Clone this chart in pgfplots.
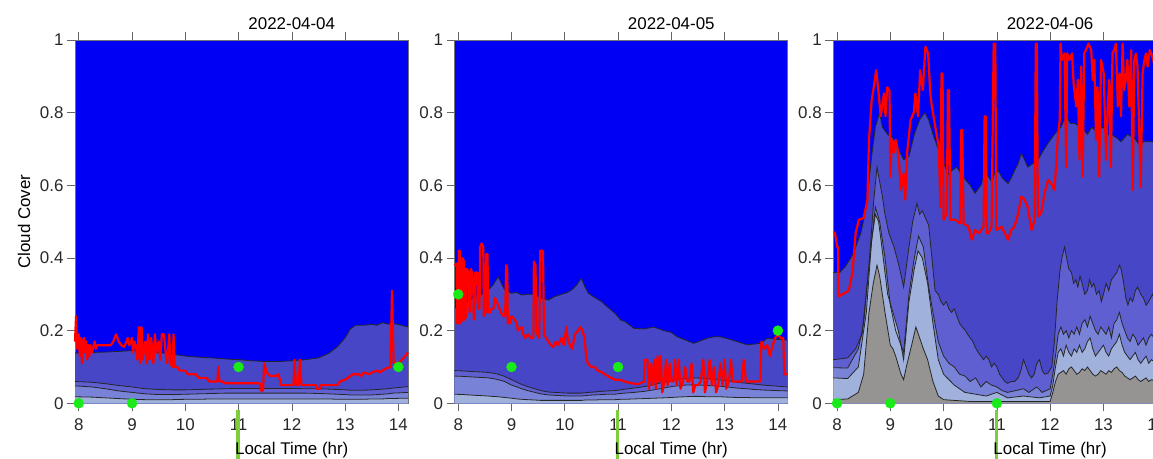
\documentclass[border=0pt]{standalone}
\usepackage{pgfplots}
\pgfplotsset{compat=1.18}
\usepackage{pgfplotstable}
\usepackage{fontspec}
\setmainfont{Liberation Sans}

\definecolor{bgblue}{RGB}{0,0,245}
\definecolor{cA}{RGB}{70,70,198}
\definecolor{cB}{RGB}{95,95,210}
\definecolor{cC}{RGB}{120,130,215}
\definecolor{cD}{RGB}{160,178,220}
\definecolor{cE}{RGB}{150,148,146}
\definecolor{dotgreen}{RGB}{25,235,25}
\definecolor{vgreen}{RGB}{125,205,60}
\definecolor{ticktext}{RGB}{40,40,40}

% ---------- Panel 1 (2022-04-04) ----------
\pgfplotstableread{
x     b1    b2    b3    b4
7.93  0.138 0.060 0.048 0.018
8.25  0.140 0.058 0.045 0.017
8.5   0.141 0.054 0.040 0.015
8.75  0.143 0.049 0.034 0.013
9.0   0.145 0.045 0.030 0.011
9.25  0.143 0.040 0.026 0.010
9.5   0.140 0.038 0.024 0.010
9.75  0.135 0.037 0.024 0.010
10.0  0.130 0.037 0.025 0.011
10.25 0.127 0.038 0.026 0.011
10.5  0.125 0.039 0.027 0.012
10.75 0.122 0.040 0.028 0.012
11.0  0.120 0.041 0.028 0.012
11.25 0.117 0.041 0.028 0.012
11.5  0.115 0.041 0.028 0.012
11.75 0.115 0.041 0.028 0.012
12.0  0.117 0.041 0.028 0.012
12.25 0.120 0.040 0.028 0.012
12.5  0.125 0.040 0.027 0.012
12.7  0.138 0.039 0.026 0.012
12.85 0.155 0.038 0.025 0.011
13.0  0.180 0.037 0.024 0.011
13.1  0.205 0.036 0.023 0.011
13.2  0.215 0.036 0.023 0.011
13.35 0.215 0.036 0.023 0.011
13.5  0.217 0.037 0.023 0.012
13.6  0.215 0.038 0.024 0.012
13.7  0.222 0.039 0.025 0.012
13.8  0.218 0.040 0.026 0.013
13.9  0.220 0.042 0.028 0.013
14.05 0.215 0.044 0.029 0.014
14.18 0.210 0.046 0.030 0.014
}\bandsA

\pgfplotstableread{
x y
7.93 0.17
7.95 0.24
7.97 0.15
8.00 0.19
8.02 0.13
8.04 0.18
8.06 0.11
8.08 0.17
8.10 0.18
8.12 0.14
8.14 0.17
8.16 0.12
8.18 0.16
8.20 0.13
8.22 0.16
8.25 0.14
8.28 0.16
8.30 0.17
8.32 0.15
8.35 0.16
8.50 0.16
8.60 0.16
8.65 0.17
8.70 0.19
8.75 0.17
8.80 0.16
8.85 0.155
8.90 0.17
8.92 0.18
8.95 0.16
9.00 0.18
9.02 0.14
9.05 0.17
9.08 0.15
9.10 0.12
9.13 0.21
9.15 0.11
9.18 0.21
9.20 0.12
9.25 0.17
9.28 0.11
9.30 0.19
9.33 0.12
9.36 0.18
9.40 0.11
9.43 0.19
9.46 0.14
9.50 0.17
9.53 0.12
9.56 0.19
9.60 0.19
9.63 0.14
9.66 0.11
9.70 0.19
9.72 0.11
9.76 0.10
9.78 0.19
9.80 0.10
9.85 0.10
9.90 0.09
10.00 0.09
10.05 0.08
10.20 0.08
10.25 0.07
10.40 0.07
10.45 0.06
10.60 0.06
10.62 0.10
10.64 0.06
10.70 0.06
10.75 0.055
11.40 0.055
11.42 0.035
11.46 0.035
11.48 0.11
11.52 0.09
11.55 0.08
11.60 0.075
11.70 0.075
11.75 0.08
11.80 0.05
12.03 0.05
12.05 0.12
12.08 0.05
12.13 0.05
12.15 0.12
12.18 0.05
12.45 0.05
12.47 0.04
12.52 0.04
12.54 0.05
12.85 0.05
12.90 0.06
13.00 0.065
13.05 0.07
13.15 0.08
13.25 0.08
13.30 0.075
13.35 0.085
13.45 0.08
13.50 0.085
13.60 0.09
13.65 0.085
13.75 0.095
13.85 0.10
13.88 0.31
13.91 0.11
14.00 0.11
14.10 0.125
14.18 0.14
}\redA

% ---------- Panel 2 (2022-04-05) ----------
\pgfplotstableread{
x     b1    b2    b3    b4
7.93  0.262 0.090 0.075 0.025
8.1   0.275 0.089 0.074 0.024
8.31  0.293 0.087 0.072 0.022
8.45  0.300 0.086 0.071 0.021
8.56  0.312 0.085 0.070 0.020
8.65  0.325 0.083 0.068 0.019
8.75  0.348 0.080 0.065 0.018
8.87  0.312 0.074 0.060 0.016
9.0   0.303 0.065 0.050 0.014
9.1   0.305 0.058 0.045 0.012
9.19  0.298 0.052 0.040 0.011
9.3   0.300 0.046 0.035 0.010
9.44  0.300 0.040 0.030 0.009
9.55  0.290 0.035 0.026 0.008
9.69  0.284 0.031 0.023 0.008
9.8   0.293 0.030 0.022 0.008
9.94  0.300 0.029 0.021 0.008
10.05 0.305 0.028 0.020 0.008
10.13 0.312 0.028 0.020 0.008
10.22 0.325 0.028 0.020 0.008
10.31 0.344 0.028 0.020 0.008
10.38 0.320 0.029 0.021 0.009
10.44 0.303 0.030 0.022 0.009
10.55 0.292 0.031 0.023 0.009
10.69 0.280 0.033 0.024 0.010
10.8  0.265 0.034 0.025 0.010
10.94 0.248 0.035 0.025 0.010
11.05 0.229 0.037 0.027 0.011
11.13 0.225 0.039 0.028 0.011
11.3  0.206 0.042 0.030 0.012
11.5  0.205 0.046 0.033 0.013
11.67 0.210 0.052 0.037 0.014
11.86 0.200 0.058 0.042 0.015
12.0  0.195 0.062 0.046 0.016
12.11 0.183 0.065 0.048 0.017
12.25 0.175 0.068 0.050 0.018
12.42 0.165 0.070 0.051 0.019
12.55 0.172 0.069 0.050 0.019
12.67 0.179 0.068 0.049 0.018
12.8  0.183 0.066 0.048 0.018
12.92 0.183 0.064 0.047 0.018
13.05 0.178 0.062 0.045 0.017
13.23 0.170 0.058 0.042 0.016
13.42 0.161 0.055 0.040 0.016
13.55 0.163 0.053 0.038 0.015
13.67 0.165 0.051 0.037 0.015
13.8  0.179 0.049 0.036 0.015
14.0  0.176 0.047 0.035 0.015
14.18 0.174 0.045 0.034 0.015
}\bandsB

\pgfplotstableread{
x y
7.93 0.38
7.97 0.385
7.98 0.22
8.00 0.22
8.01 0.42
8.03 0.42
8.04 0.22
8.07 0.23
8.08 0.40
8.11 0.39
8.12 0.23
8.15 0.24
8.16 0.37
8.20 0.36
8.21 0.25
8.23 0.26
8.24 0.37
8.28 0.34
8.29 0.23
8.31 0.24
8.32 0.36
8.36 0.36
8.37 0.26
8.40 0.26
8.41 0.43
8.44 0.44
8.47 0.43
8.48 0.24
8.51 0.25
8.52 0.41
8.55 0.41
8.56 0.25
8.60 0.25
8.62 0.26
8.66 0.26
8.69 0.29
8.72 0.28
8.75 0.27
8.80 0.25
8.85 0.24
8.88 0.24
8.90 0.38
8.92 0.37
8.93 0.22
8.97 0.22
9.00 0.24
9.06 0.23
9.10 0.22
9.12 0.20
9.19 0.21
9.22 0.19
9.25 0.18
9.31 0.19
9.36 0.18
9.41 0.18
9.42 0.39
9.45 0.38
9.47 0.19
9.50 0.19
9.52 0.18
9.54 0.42
9.59 0.42
9.61 0.19
9.69 0.17
9.74 0.16
9.78 0.155
9.83 0.17
9.87 0.16
9.94 0.18
9.98 0.16
10.03 0.21
10.06 0.17
10.10 0.16
10.14 0.15
10.19 0.19
10.25 0.20
10.29 0.21
10.33 0.20
10.37 0.18
10.40 0.13
10.43 0.11
10.50 0.10
10.56 0.10
10.62 0.09
10.70 0.085
10.75 0.08
10.81 0.075
10.87 0.07
10.94 0.065
11.00 0.065
11.05 0.064
11.12 0.06
11.20 0.057
11.30 0.054
11.40 0.054
11.49 0.06
11.50 0.12
11.55 0.12
11.58 0.04
11.62 0.11
11.65 0.05
11.68 0.12
11.71 0.04
11.74 0.13
11.77 0.06
11.80 0.13
11.83 0.03
11.87 0.06
11.90 0.12
11.93 0.05
11.97 0.11
12.00 0.06
12.04 0.06
12.07 0.12
12.10 0.05
12.14 0.12
12.17 0.04
12.22 0.06
12.26 0.10
12.30 0.06
12.34 0.06
12.38 0.11
12.41 0.03
12.45 0.05
12.50 0.05
12.55 0.06
12.60 0.12
12.63 0.03
12.67 0.06
12.72 0.12
12.76 0.05
12.80 0.10
12.84 0.03
12.88 0.05
12.92 0.11
12.96 0.05
13.00 0.12
13.03 0.04
13.08 0.06
13.12 0.12
13.15 0.06
13.20 0.06
13.25 0.06
13.32 0.06
13.36 0.12
13.40 0.06
13.50 0.06
13.60 0.06
13.67 0.06
13.69 0.17
13.75 0.15
13.80 0.16
13.85 0.13
13.90 0.16
13.95 0.18
14.00 0.19
14.05 0.18
14.10 0.18
14.12 0.08
14.18 0.08
}\redB

% ---------- Panel 3 (2022-04-06) ----------
\pgfplotstableread{
x y
7.93 0.36
8.05 0.36
8.15 0.375
8.3 0.41
8.45 0.47
8.55 0.54
8.65 0.68
8.72 0.76
8.8 0.80
8.85 0.76
8.95 0.74
9.05 0.73
9.15 0.70
9.25 0.67
9.35 0.68
9.45 0.74
9.55 0.78
9.65 0.80
9.72 0.78
9.8 0.74
9.9 0.70
9.97 0.67
10.03 0.65
10.09 0.63
10.15 0.64
10.25 0.65
10.33 0.63
10.41 0.615
10.5 0.60
10.59 0.578
10.65 0.59
10.7 0.60
10.77 0.63
10.84 0.624
10.9 0.61
10.96 0.633
11.03 0.64
11.1 0.62
11.21 0.605
11.27 0.62
11.33 0.64
11.4 0.66
11.46 0.688
11.52 0.67
11.58 0.65
11.68 0.66
11.77 0.67
11.85 0.69
11.96 0.716
12.08 0.74
12.2 0.76
12.3 0.79
12.38 0.77
12.46 0.77
12.58 0.76
12.7 0.74
12.78 0.76
12.85 0.75
13.0 0.76
13.08 0.74
13.15 0.74
13.25 0.73
13.33 0.72
13.45 0.74
13.58 0.73
13.68 0.71
13.75 0.72
13.92 0.72
14.05 0.70
14.18 0.70
}\cOne

\pgfplotstableread{
x y
7.93 0.12
8.2 0.125
8.35 0.15
8.47 0.19
8.6 0.38
8.69 0.56
8.75 0.65
8.8 0.61
8.85 0.57
8.9 0.52
8.97 0.47
9.07 0.43
9.16 0.38
9.25 0.32
9.35 0.43
9.42 0.50
9.5 0.55
9.55 0.52
9.6 0.53
9.66 0.51
9.72 0.49
9.78 0.40
9.84 0.31
9.9 0.30
9.95 0.28
10.0 0.27
10.05 0.28
10.1 0.26
10.15 0.25
10.2 0.26
10.25 0.24
10.3 0.22
10.35 0.21
10.41 0.20
10.45 0.19
10.5 0.18
10.55 0.17
10.59 0.155
10.65 0.14
10.7 0.13
10.75 0.12
10.8 0.13
10.85 0.12
10.9 0.10
10.95 0.11
11.0 0.10
11.05 0.08
11.1 0.07
11.15 0.06
11.2 0.055
11.27 0.06
11.33 0.06
11.4 0.07
11.45 0.09
11.5 0.12
11.55 0.10
11.6 0.08
11.65 0.07
11.7 0.08
11.75 0.11
11.8 0.12
11.85 0.09
11.9 0.08
11.96 0.083
12.03 0.10
12.08 0.17
12.13 0.28
12.18 0.36
12.22 0.40
12.27 0.43
12.31 0.40
12.35 0.37
12.4 0.36
12.44 0.33
12.48 0.34
12.52 0.32
12.56 0.35
12.6 0.33
12.65 0.30
12.7 0.31
12.74 0.34
12.78 0.32
12.82 0.33
12.87 0.30
12.92 0.31
12.96 0.28
13.0 0.30
13.05 0.33
13.1 0.31
13.15 0.34
13.2 0.35
13.25 0.36
13.3 0.38
13.33 0.37
13.37 0.34
13.42 0.29
13.46 0.27
13.5 0.29
13.55 0.28
13.6 0.31
13.64 0.32
13.7 0.30
13.75 0.29
13.8 0.27
13.85 0.28
13.92 0.30
14.0 0.27
14.1 0.29
14.18 0.28
}\cTwo

\pgfplotstableread{
x y
7.93 0.098
8.2 0.097
8.4 0.15
8.5 0.22
8.6 0.38
8.72 0.54
8.8 0.50
8.9 0.40
9.0 0.27
9.1 0.20
9.2 0.16
9.25 0.14
9.35 0.30
9.45 0.40
9.53 0.46
9.62 0.43
9.72 0.32
9.8 0.25
9.9 0.17
10.0 0.13
10.1 0.11
10.2 0.10
10.3 0.08
10.4 0.075
10.5 0.06
10.6 0.07
10.7 0.045
10.8 0.06
10.9 0.05
11.0 0.045
11.1 0.035
11.2 0.03
11.35 0.035
11.5 0.04
11.6 0.03
11.75 0.045
11.85 0.03
12.0 0.04
12.05 0.08
12.1 0.13
12.15 0.19
12.2 0.21
12.25 0.19
12.3 0.20
12.35 0.18
12.4 0.20
12.45 0.19
12.5 0.21
12.55 0.19
12.6 0.22
12.65 0.23
12.7 0.21
12.75 0.24
12.8 0.22
12.85 0.20
12.9 0.19
12.95 0.21
13.0 0.20
13.05 0.19
13.1 0.21
13.15 0.18
13.2 0.22
13.25 0.23
13.3 0.25
13.35 0.22
13.4 0.20
13.45 0.18
13.5 0.17
13.55 0.19
13.6 0.18
13.65 0.16
13.7 0.17
13.75 0.18
13.8 0.16
13.85 0.18
13.9 0.19
14.0 0.17
14.1 0.18
14.18 0.17
}\cThree

\pgfplotstableread{
x y
7.93 0.07
8.2 0.068
8.4 0.10
8.55 0.25
8.65 0.45
8.72 0.52
8.78 0.50
8.85 0.42
8.95 0.30
9.05 0.25
9.15 0.20
9.25 0.12
9.35 0.28
9.45 0.37
9.52 0.42
9.6 0.40
9.7 0.33
9.8 0.22
9.9 0.12
10.0 0.08
10.2 0.05
10.4 0.03
10.6 0.025
10.8 0.02
11.0 0.03
11.2 0.015
11.5 0.02
11.8 0.015
12.0 0.02
12.05 0.05
12.1 0.10
12.15 0.14
12.2 0.15
12.25 0.13
12.3 0.16
12.35 0.14
12.4 0.13
12.45 0.15
12.5 0.14
12.55 0.16
12.6 0.14
12.65 0.15
12.7 0.17
12.75 0.18
12.8 0.15
12.85 0.13
12.9 0.14
12.95 0.15
13.0 0.16
13.05 0.14
13.1 0.13
13.15 0.15
13.2 0.16
13.25 0.17
13.3 0.19
13.35 0.16
13.4 0.14
13.45 0.13
13.5 0.12
13.55 0.13
13.6 0.14
13.65 0.12
13.7 0.11
13.75 0.12
13.8 0.13
13.85 0.11
13.9 0.12
14.0 0.11
14.1 0.12
14.18 0.11
}\cFour

\pgfplotstableread{
x y
7.93 0.01
8.2 0.012
8.4 0.03
8.5 0.08
8.6 0.25
8.68 0.33
8.75 0.38
8.8 0.35
8.85 0.30
8.9 0.25
9.0 0.16
9.05 0.15
9.1 0.13
9.2 0.08
9.25 0.065
9.3 0.10
9.4 0.16
9.48 0.21
9.55 0.18
9.62 0.15
9.7 0.12
9.8 0.06
9.9 0.02
10.0 0.01
10.5 0.005
11.0 0.005
11.5 0.005
12.0 0.005
12.05 0.03
12.1 0.06
12.15 0.08
12.2 0.085
12.25 0.09
12.3 0.08
12.35 0.095
12.4 0.10
12.45 0.09
12.5 0.08
12.55 0.085
12.6 0.095
12.65 0.09
12.7 0.10
12.75 0.09
12.8 0.08
12.85 0.075
12.9 0.08
12.95 0.09
13.0 0.085
13.05 0.08
13.1 0.09
13.15 0.085
13.2 0.095
13.25 0.10
13.3 0.09
13.35 0.085
13.4 0.075
13.45 0.07
13.5 0.065
13.55 0.07
13.6 0.075
13.65 0.065
13.7 0.06
13.75 0.065
13.8 0.07
13.85 0.06
13.9 0.065
14.0 0.06
14.18 0.06
}\cFive

\pgfplotstableread{
x y
7.93 0.47
7.96 0.47
8.005 0.43
8.02 0.43
8.025 0.294
8.10 0.30
8.22 0.31
8.29 0.36
8.35 0.47
8.41 0.505
8.50 0.51
8.57 0.56
8.60 0.725
8.65 0.835
8.69 0.87
8.735 0.917
8.77 0.87
8.82 0.79
8.85 0.82
8.88 0.853
8.91 0.79
8.94 0.87
8.985 0.86
9.00 0.624
9.03 0.725
9.065 0.69
9.10 0.725
9.13 0.706
9.16 0.67
9.20 0.587
9.25 0.633
9.28 0.56
9.315 0.69
9.38 0.78
9.44 0.80
9.47 0.853
9.52 0.79
9.56 0.917
9.61 0.862
9.66 0.982
9.71 0.963
9.75 0.853
9.78 0.817
9.845 0.76
9.91 0.706
9.94 0.54
9.96 0.908
9.98 0.908
10.00 0.505
10.06 0.523
10.08 0.862
10.10 0.862
10.13 0.505
10.22 0.505
10.31 0.495
10.33 0.752
10.35 0.752
10.375 0.495
10.47 0.486
10.53 0.45
10.59 0.477
10.66 0.468
10.75 0.486
10.77 0.79
10.79 0.79
10.81 0.468
10.84 0.468
10.90 0.486
10.94 0.99
10.97 0.99
10.99 0.477
11.085 0.486
11.15 0.468
11.21 0.45
11.27 0.477
11.33 0.486
11.40 0.523
11.46 0.569
11.52 0.56
11.58 0.54
11.65 0.477
11.71 0.505
11.73 0.99
11.75 0.99
11.77 0.514
11.83 0.523
11.895 0.578
11.96 0.615
12.02 0.605
12.08 0.587
12.11 0.65
12.145 0.734
12.18 0.78
12.195 0.99
12.22 0.945
12.27 0.963
12.30 0.65
12.32 0.963
12.36 0.945
12.41 0.963
12.44 0.88
12.49 0.817
12.52 0.89
12.55 0.67
12.58 0.927
12.61 0.624
12.64 0.963
12.67 0.972
12.72 0.99
12.77 0.972
12.80 0.89
12.83 0.945
12.86 0.725
12.89 0.87
12.92 0.624
12.955 0.945
13.005 0.908
13.05 0.67
13.08 0.817
13.11 0.89
13.14 0.65
13.17 0.963
13.20 0.972
13.235 0.99
13.27 0.817
13.30 0.908
13.33 0.79
13.36 0.99
13.39 0.862
13.42 0.89
13.45 0.945
13.485 0.817
13.52 0.972
13.55 0.587
13.58 0.945
13.61 0.963
13.64 0.927
13.70 0.596
13.735 0.908
13.77 0.945
13.80 0.963
13.83 0.927
13.87 0.972
13.92 0.954
13.96 0.93
14.00 0.97
14.05 0.90
14.10 0.96
14.18 0.95
}\redC

\pgfplotsset{
  panel/.style={
    anchor=south west, scale only axis,
    width=333bp, height=363.3bp,
    xmin=7.93, xmax=14.18, ymin=0, ymax=1,
    xtick={8,9,10,11,12,13,14},
    ytick={0,0.2,0.4,0.6,0.8,1},
    yticklabels={0,0.2,0.4,0.6,0.8,1},
    tick align=outside, ytick pos=left,
    major tick length=8bp,
    tick style={draw=black!60, line width=0.6bp},
    axis line style={draw=black!55, line width=0.6bp},
    axis background/.style={fill=bgblue},
    clip=false,
    font=\fontsize{17}{20}\selectfont,
    tick label style={text=ticktext},
    /pgf/number format/assume math mode=true,
    xticklabel style={yshift=-4bp},
    every axis title/.style={at={(axis description cs:0.651,1.0295)}, anchor=base},
    every axis x label/.style={at={(axis description cs:0.651,-0.1396)}, anchor=base},
    every axis y label/.style={at={(axis description cs:-0.1351,0.5)}, rotate=90, anchor=base},
    xlabel={Local Time (hr)},
  },
  cline/.style={draw=black!85, line width=0.8bp, no markers},
  redline/.style={draw=red, line width=2.2bp, no markers, line join=round},
  dots/.style={only marks, mark=*, mark size=5bp, color=dotgreen},
  vline/.style={draw=vgreen, line width=3.5bp, no markers},
}

\begin{document}
\begin{tikzpicture}
\useasboundingbox (0,0) rectangle (1153bp,459bp);
\clip (0,0) rectangle (1153bp,459bp);

% Panel 1
\begin{axis}[panel, at={(75bp,55.7bp)}, title={2022-04-04}, ylabel={Cloud Cover}]
  \addplot[fill=cA, draw=none] table[x=x,y=b1] {\bandsA} \closedcycle;
  \addplot[fill=cB, draw=none] table[x=x,y=b2] {\bandsA} \closedcycle;
  \addplot[fill=cC, draw=none] table[x=x,y=b3] {\bandsA} \closedcycle;
  \addplot[fill=cD, draw=none] table[x=x,y=b4] {\bandsA} \closedcycle;
  \addplot[cline] table[x=x,y=b1] {\bandsA};
  \addplot[cline] table[x=x,y=b2] {\bandsA};
  \addplot[cline] table[x=x,y=b3] {\bandsA};
  \addplot[cline] table[x=x,y=b4] {\bandsA};
  \addplot[redline] table {\redA};
  \addplot[dots] coordinates {(8,0) (9,0) (11,0.1) (14,0.1)};
  \addplot[vline] coordinates {(10.99,-0.018) (10.99,-0.17)};
\end{axis}

% Panel 2
\begin{axis}[panel, at={(454.5bp,55.7bp)}, title={2022-04-05}]
  \addplot[fill=cA, draw=none] table[x=x,y=b1] {\bandsB} \closedcycle;
  \addplot[fill=cB, draw=none] table[x=x,y=b2] {\bandsB} \closedcycle;
  \addplot[fill=cC, draw=none] table[x=x,y=b3] {\bandsB} \closedcycle;
  \addplot[fill=cD, draw=none] table[x=x,y=b4] {\bandsB} \closedcycle;
  \addplot[cline] table[x=x,y=b1] {\bandsB};
  \addplot[cline] table[x=x,y=b2] {\bandsB};
  \addplot[cline] table[x=x,y=b3] {\bandsB};
  \addplot[cline] table[x=x,y=b4] {\bandsB};
  \addplot[redline] table {\redB};
  \addplot[dots] coordinates {(8,0.3) (9,0.1) (11,0.1) (14,0.2)};
  \addplot[vline] coordinates {(10.99,-0.018) (10.99,-0.17)};
\end{axis}

% Panel 3
\begin{axis}[panel, at={(833.3bp,55.7bp)}, title={2022-04-06}]
  \addplot[fill=cA, draw=none] table {\cOne} \closedcycle;
  \addplot[fill=cB, draw=none] table {\cTwo} \closedcycle;
  \addplot[fill=cC, draw=none] table {\cThree} \closedcycle;
  \addplot[fill=cD, draw=none] table {\cFour} \closedcycle;
  \addplot[fill=cE, draw=none] table {\cFive} \closedcycle;
  \addplot[cline] table {\cOne};
  \addplot[cline] table {\cTwo};
  \addplot[cline] table {\cThree};
  \addplot[cline] table {\cFour};
  \addplot[cline] table {\cFive};
  \addplot[redline] table {\redC};
  \addplot[dots] coordinates {(8,0) (9,0) (11,0)};
  \addplot[vline] coordinates {(10.99,-0.018) (10.99,-0.17)};
\end{axis}
\end{tikzpicture}
\end{document}
